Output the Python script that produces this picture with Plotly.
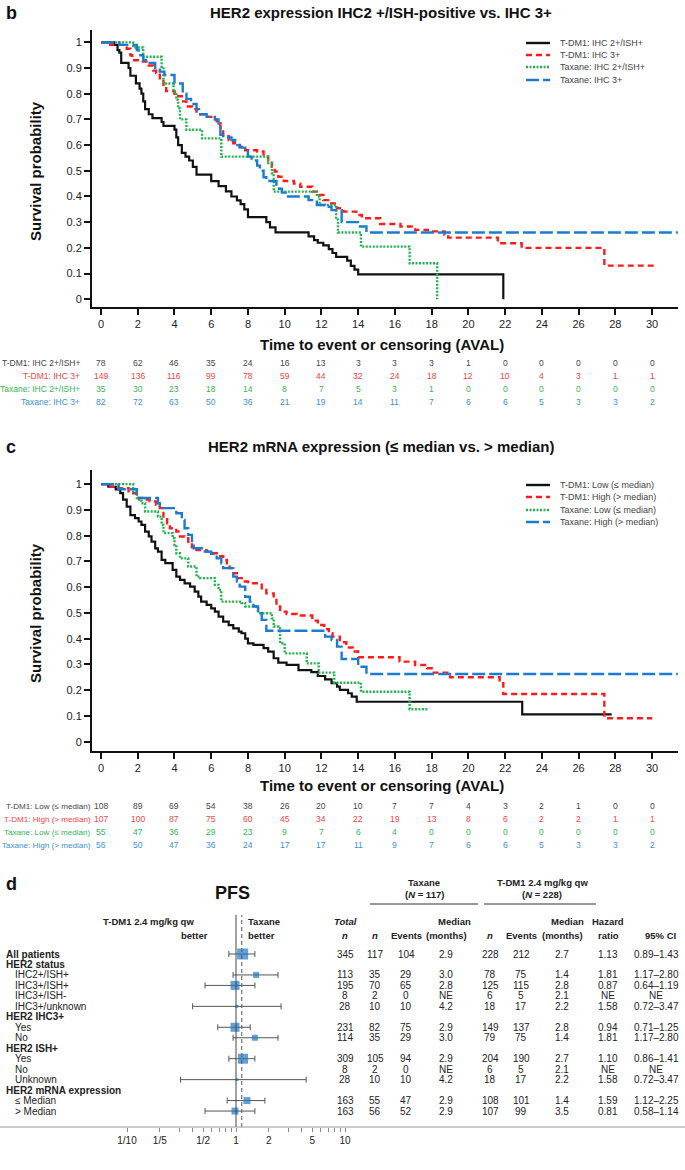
import plotly.graph_objects as go

W, H = 685, 1170
FONT = "Liberation Sans, Arial, sans-serif"
NARROW = "Liberation Sans Narrow, Liberation Sans, Arial, sans-serif"

def fx(x):
    return x / W

def fy(y):
    return 1 - y / H

# ── colours ──────────────────────────────────────────────────────────────────
C_BLACK, C_RED, C_GREEN, C_BLUE = "#111111", "#ff1a1a", "#22b14c", "#1b7bd0"
T_BLACK, T_RED, T_GREEN, T_BLUE = "#444444", "#f04444", "#35b556", "#3d8fd6"

# ── panel b: HER2 IHC2+/ISH+ vs IHC3+ ─────────────────────────────────────────
b_tdm1_ihc2_t = [0, 0.7, 0.9, 1.0, 1.1, 1.5, 1.6, 1.9, 2.1, 2.2, 2.3, 2.4, 2.6, 2.8, 3.3, 3.4,
                 4.0, 4.1, 4.2, 4.4, 4.6, 4.8, 5.0, 5.2, 6.0, 6.4, 6.8, 7.1, 7.4, 7.6, 7.8, 8.0,
                 9.0, 9.2, 9.5, 11.3, 11.6, 11.8, 12.1, 12.4, 12.6, 12.8, 13.4, 13.6, 13.8, 14.0, 21.9]
b_tdm1_ihc2_s = [1, 0.99, 0.97, 0.96, 0.92, 0.90, 0.87, 0.84, 0.82, 0.80, 0.77, 0.74, 0.72, 0.705, 0.69, 0.675,
                 0.66, 0.63, 0.60, 0.57, 0.555, 0.54, 0.515, 0.485, 0.46, 0.44, 0.42, 0.40, 0.385, 0.37, 0.35, 0.32,
                 0.30, 0.28, 0.26, 0.245, 0.23, 0.22, 0.21, 0.195, 0.18, 0.165, 0.15, 0.13, 0.115, 0.097, 0]

b_tdm1_ihc3_t = [0, 0.5, 1.4, 1.6, 1.7, 2.2, 2.6, 2.85, 3.0, 3.2, 3.4, 3.55, 4.0, 4.1, 4.4, 4.65, 4.95, 5.2,
                 5.6, 6.1, 6.3, 6.5, 6.65, 6.95, 7.2, 7.55, 7.85, 8.5, 8.85, 9.1, 9.3, 9.45, 9.65, 9.95,
                 10.5, 10.85, 11.5, 11.75, 12.1, 12.45, 12.85, 13.2, 13.9, 14.2, 15.2, 16.3, 17.1, 17.8,
                 18.7, 18.9, 21.6, 22.9, 27.4, 30.2]
b_tdm1_ihc3_s = [1, 0.99, 0.975, 0.95, 0.93, 0.925, 0.91, 0.89, 0.88, 0.86, 0.835, 0.81, 0.80, 0.79, 0.77, 0.75, 0.74, 0.72,
                 0.71, 0.70, 0.685, 0.66, 0.635, 0.62, 0.607, 0.594, 0.58, 0.575, 0.555, 0.54, 0.516, 0.497, 0.477, 0.46,
                 0.45, 0.438, 0.419, 0.406, 0.386, 0.373, 0.354, 0.341, 0.328, 0.315, 0.293, 0.283, 0.27, 0.264,
                 0.251, 0.24, 0.218, 0.20, 0.131, 0.131]

b_tax_ihc2_t = [0, 1.75, 2.3, 3.3, 3.4, 3.95, 4.1, 4.2, 4.3, 4.65, 5.5, 6.55, 9.1, 9.3, 9.4,
                11.75, 11.9, 12.8, 12.9, 14.15, 16.8, 18.3]
b_tax_ihc2_s = [1, 0.98, 0.944, 0.905, 0.84, 0.808, 0.776, 0.743, 0.70, 0.66, 0.626, 0.555, 0.53, 0.49, 0.419,
                0.40, 0.367, 0.31, 0.26, 0.205, 0.14, 0.0]

b_tax_ihc3_t = [0, 1.0, 1.95, 2.05, 2.3, 2.65, 2.95, 3.2, 3.45, 4.0, 4.45, 4.65, 4.9, 5.2, 5.4, 5.75,
                6.2, 6.4, 6.5, 6.65, 7.1, 7.3, 7.55, 7.85, 8.0, 8.2, 8.5, 8.65, 8.85, 9.0, 9.55, 9.7,
                9.85, 10.05, 11.3, 11.75, 12.2, 12.55, 13.1, 14.1, 14.45, 31.4]
b_tax_ihc3_s = [1, 0.99, 0.97, 0.95, 0.93, 0.92, 0.90, 0.886, 0.873, 0.84, 0.80, 0.78, 0.76, 0.74, 0.72, 0.71,
                0.70, 0.67, 0.64, 0.63, 0.62, 0.60, 0.59, 0.575, 0.555, 0.54, 0.52, 0.50, 0.475, 0.46, 0.445, 0.43,
                0.415, 0.40, 0.386, 0.367, 0.36, 0.347, 0.30, 0.283, 0.26, 0.26]

b_names = ["T-DM1: IHC 2+/ISH+", "T-DM1: IHC 3+", "Taxane: IHC 2+/ISH+", "Taxane: IHC 3+"]
b_risk_tdm1_ihc2 = [78, 62, 46, 35, 24, 16, 13, 3, 3, 3, 1, 0, 0, 0, 0, 0]
b_risk_tdm1_ihc3 = [149, 136, 116, 99, 78, 59, 44, 32, 24, 18, 12, 10, 4, 3, 1, 1]
b_risk_tax_ihc2 = [35, 30, 23, 18, 14, 8, 7, 5, 3, 1, 0, 0, 0, 0, 0, 0]
b_risk_tax_ihc3 = [82, 72, 63, 50, 36, 21, 19, 14, 11, 7, 6, 6, 5, 3, 3, 2]

# ── panel c: HER2 mRNA low vs high ───────────────────────────────────────────
c_tdm1_low_t = [0, 0.4, 0.8, 1.05, 1.2, 1.4, 1.6, 1.85, 2.05, 2.2, 2.4, 2.6, 2.75, 2.95, 3.1, 3.3, 3.5,
                3.9, 4.1, 4.3, 4.55, 4.85, 5.1, 5.3, 5.45, 5.75, 6.0, 6.2, 6.4, 6.65, 6.95, 7.2, 7.5,
                7.65, 7.85, 8.0, 8.3, 8.85, 9.1, 9.4, 9.65, 10.1, 10.75, 11.45, 11.8, 12.2, 12.55, 12.85,
                13.0, 13.45, 13.65, 13.92, 22.93, 27.8]
c_tdm1_low_s = [1, 0.99, 0.98, 0.965, 0.94, 0.913, 0.88, 0.868, 0.855, 0.842, 0.816, 0.797, 0.777, 0.751, 0.738, 0.706, 0.693,
                0.667, 0.641, 0.628, 0.615, 0.602, 0.583, 0.563, 0.544, 0.531, 0.518, 0.505, 0.486, 0.466, 0.453, 0.44, 0.427,
                0.421, 0.40, 0.382, 0.376, 0.363, 0.35, 0.324, 0.307, 0.298, 0.278, 0.27, 0.255, 0.242, 0.227, 0.214,
                0.201, 0.188, 0.175, 0.155, 0.106, 0.106]

c_tdm1_high_t = [0, 0.5, 0.95, 1.5, 1.95, 2.3, 2.65, 3.0, 3.2, 3.4, 3.6, 3.75, 4.1, 4.3, 4.55, 4.75,
                 4.95, 5.2, 5.75, 6.0, 6.3, 6.65, 6.85, 7.0, 7.2, 7.4, 7.75, 8.0, 8.75, 9.0, 9.4, 9.55,
                 9.75, 10.1, 10.65, 11.5, 11.8, 12.15, 12.4, 12.6, 13.0, 13.35, 13.7, 14.0, 16.25, 17.1,
                 17.75, 18.0, 19.0, 21.7, 21.9, 27.4, 30.0]
c_tdm1_high_s = [1, 0.99, 0.984, 0.965, 0.946, 0.94, 0.933, 0.92, 0.907, 0.874, 0.848, 0.829, 0.816, 0.797, 0.79, 0.771,
                 0.755, 0.744, 0.738, 0.732, 0.72, 0.706, 0.693, 0.674, 0.654, 0.635, 0.622, 0.615, 0.596, 0.576, 0.557, 0.525,
                 0.505, 0.496, 0.49, 0.47, 0.453, 0.437, 0.421, 0.408, 0.386, 0.366, 0.35, 0.328, 0.311, 0.298,
                 0.285, 0.268, 0.25, 0.227, 0.185, 0.091, 0.091]

c_tax_low_t = [0, 1.75, 1.95, 2.2, 2.4, 3.1, 3.3, 3.4, 3.9, 4.0, 4.1, 4.3, 4.75, 5.2, 5.4, 6.2, 6.4,
               6.55, 7.65, 7.85, 8.55, 9.3, 9.4, 9.65, 9.75, 10.0, 11.2, 11.85, 12.7, 14.15, 16.8, 17.8]
c_tax_low_s = [1, 0.97, 0.94, 0.926, 0.894, 0.874, 0.842, 0.81, 0.79, 0.764, 0.732, 0.712, 0.68, 0.641, 0.635, 0.609, 0.589,
               0.544, 0.538, 0.525, 0.499, 0.479, 0.447, 0.44, 0.382, 0.343, 0.304, 0.268, 0.229, 0.194, 0.126, 0.126]

c_tax_high_t = [0, 0.95, 1.95, 3.1, 3.2, 4.1, 4.4, 4.55, 4.75, 4.95, 5.05, 5.65, 6.0, 6.3, 6.55, 6.65,
                7.2, 7.4, 7.55, 7.85, 8.1, 8.3, 8.55, 8.75, 9.0, 12.2, 12.55, 12.85, 13.1, 14.0, 14.45, 31.4]
c_tax_high_s = [1, 0.98, 0.946, 0.926, 0.907, 0.887, 0.861, 0.829, 0.803, 0.771, 0.751, 0.738, 0.73, 0.712, 0.693, 0.674,
                0.641, 0.622, 0.602, 0.563, 0.544, 0.525, 0.499, 0.473, 0.431, 0.408, 0.395, 0.369, 0.321, 0.291, 0.263, 0.263]

c_names = ["T-DM1: Low (≤ median)", "T-DM1: High (> median)", "Taxane: Low (≤ median)", "Taxane: High (> median)"]
c_risk_tdm1_low = [108, 89, 69, 54, 38, 26, 20, 10, 7, 7, 4, 3, 2, 1, 0, 0]
c_risk_tdm1_high = [107, 100, 87, 75, 60, 45, 34, 22, 19, 13, 8, 6, 2, 2, 1, 1]
c_risk_tax_low = [55, 47, 36, 29, 23, 9, 7, 6, 4, 0, 0, 0, 0, 0, 0, 0]
c_risk_tax_high = [56, 50, 47, 36, 24, 17, 17, 11, 9, 7, 6, 6, 5, 3, 3, 2]

risk_times = list(range(0, 31, 2))

# ── panel d: PFS forest plot ─────────────────────────────────────────────────
d_labels = ["All patients", "HER2 status", "IHC2+/ISH+", "IHC3+/ISH+", "IHC3+/ISH-", "IHC3+/unknown",
            "HER2 IHC3+", "Yes", "No", "HER2 ISH+", "Yes", "No", "Unknown",
            "HER2 mRNA expression", "≤ Median", "> Median"]
d_is_header = [True, True, False, False, False, False, True, False, False, True, False, False, False,
               True, False, False]
d_total = ["345", "", "113", "195", "8", "28", "", "231", "114", "", "309", "8", "28", "", "163", "163"]
d_tax_n = ["117", "", "35", "70", "2", "10", "", "82", "35", "", "105", "2", "10", "", "55", "56"]
d_tax_ev = ["104", "", "29", "65", "0", "10", "", "75", "29", "", "94", "0", "10", "", "47", "52"]
d_tax_med = ["2.9", "", "3.0", "2.8", "NE", "4.2", "", "2.9", "3.0", "", "2.9", "NE", "4.2", "", "2.9", "2.9"]
d_tdm_n = ["228", "", "78", "125", "6", "18", "", "149", "79", "", "204", "6", "18", "", "108", "107"]
d_tdm_ev = ["212", "", "75", "115", "5", "17", "", "137", "75", "", "190", "5", "17", "", "101", "99"]
d_tdm_med = ["2.7", "", "1.4", "2.8", "2.1", "2.2", "", "2.8", "1.4", "", "2.7", "2.1", "2.2", "", "1.4", "3.5"]
d_hr_txt = ["1.13", "", "1.81", "0.87", "NE", "1.58", "", "0.94", "1.81", "", "1.10", "NE", "1.58", "", "1.59", "0.81"]
d_ci_txt = ["0.89–1.43", "", "1.17–2.80", "0.64–1.19", "NE", "0.72–3.47", "", "0.71–1.25", "1.17–2.80", "",
            "0.86–1.41", "NE", "0.72–3.47", "", "1.12–2.25", "0.58–1.14"]

# plotted estimates
d_hr = [1.15, None, 1.53, 0.98, None, 1.02, None, 0.98, 1.49, None, 1.16, None, 1.02, None, 1.26, 0.98]
d_lo = [0.86, None, 0.94, 0.52, None, 0.40, None, 0.68, 0.94, None, 0.86, None, 0.31, None, 0.83, 0.52]
d_hi = [1.49, None, 2.43, 1.49, None, 2.59, None, 1.35, 2.43, None, 1.49, None, 4.40, None, 1.84, 1.49]
d_box = [11, 0, 6, 9, 0, 3, 0, 9, 6, 0, 10, 0, 3, 0, 7, 7]
d_overall = 1.13

fig = go.Figure()

# ── KM curves ────────────────────────────────────────────────────────────────
styles = [
    (C_BLACK, "solid", 2.2),
    (C_RED, "6px,4px", 2.4),
    (C_GREEN, "2px,1.5px", 2.4),
    (C_BLUE, "13px,4px", 2.4),
]

b_curves = [(b_tdm1_ihc2_t, b_tdm1_ihc2_s), (b_tdm1_ihc3_t, b_tdm1_ihc3_s),
            (b_tax_ihc2_t, b_tax_ihc2_s), (b_tax_ihc3_t, b_tax_ihc3_s)]
c_curves = [(c_tdm1_low_t, c_tdm1_low_s), (c_tdm1_high_t, c_tdm1_high_s),
            (c_tax_low_t, c_tax_low_s), (c_tax_high_t, c_tax_high_s)]

for (t, s), (col, dash, w) in zip(b_curves, styles):
    fig.add_trace(go.Scatter(x=t, y=s, mode="lines", line=dict(color=col, dash=dash, width=w, shape="hv"),
                             xaxis="x", yaxis="y", showlegend=False, hoverinfo="skip"))
for (t, s), (col, dash, w) in zip(c_curves, styles):
    fig.add_trace(go.Scatter(x=t, y=s, mode="lines", line=dict(color=col, dash=dash, width=w, shape="hv"),
                             xaxis="x2", yaxis="y2", showlegend=False, hoverinfo="skip"))

# ── forest plot ──────────────────────────────────────────────────────────────
rows = list(range(len(d_labels)))
fr = [r for r in rows if d_hr[r] is not None]
fig.add_trace(go.Scatter(
    x=[d_hr[r] for r in fr], y=fr, mode="markers",
    marker=dict(symbol="square", size=[d_box[r] for r in fr], color="#1f78c4",
                line=dict(width=0)),
    error_x=dict(type="data", symmetric=False,
                 array=[d_hi[r] - d_hr[r] for r in fr],
                 arrayminus=[d_hr[r] - d_lo[r] for r in fr],
                 color="#555555", thickness=1, width=3),
    xaxis="x3", yaxis="y3", showlegend=False, hoverinfo="skip"))

ann = []
shapes = []

def txt(x, y, s, size=9, color="#222", bold=False, anchor="center", xref="paper", yref="paper",
        font=FONT, angle=0):
    if bold:
        s = "<b>" + s + "</b>"
    ann.append(dict(x=x, y=y, xref=xref, yref=yref, text=s, showarrow=False, textangle=angle,
                    xanchor=anchor, yanchor="middle", font=dict(family=font, size=size, color=color)))

# ── titles / axis titles ─────────────────────────────────────────────────────
txt(fx(4), fy(13), "b", size=18, color="#111", bold=True, anchor="left")
txt(fx(381), fy(13), "HER2 expression IHC2 +/ISH-positive vs. IHC 3+", size=15, color="#111", bold=True)
txt(fx(4), fy(447), "c", size=18, color="#111", bold=True, anchor="left")
txt(fx(381), fy(447), "HER2 mRNA expression (≤ median vs. > median)", size=15, color="#111", bold=True)

txt(fx(35), fy(171), "Survival probability", size=15, color="#111", bold=True, angle=-90)
txt(fx(35), fy(613), "Survival probability", size=15, color="#111", bold=True, angle=-90)
txt(fx(382), fy(344), "Time to event or censoring (AVAL)", size=15, color="#111", bold=True)
txt(fx(382), fy(786), "Time to event or censoring (AVAL)", size=15, color="#111", bold=True)

# ── legends (drawn) ──────────────────────────────────────────────────────────
def legend(names, ys):
    for name, (col, dash, w), y in zip(names, styles, ys):
        shapes.append(dict(type="line", xref="paper", yref="paper", x0=fx(526), x1=fx(550),
                           y0=fy(y), y1=fy(y), line=dict(color=col, width=2.4, dash=dash)))
        txt(fx(558), fy(y), name, size=9, color="#444", anchor="left")

legend(b_names, [43, 55, 67, 80])
legend(c_names, [485, 497, 510, 522])

# ── risk tables ──────────────────────────────────────────────────────────────
def risk_table(names, tables, ys, label_x, xref, size):
    cols = [T_BLACK, T_RED, T_GREEN, T_BLUE]
    for name, vals, y, col in zip(names, tables, ys, cols):
        txt(fx(label_x), fy(y), name, size=size, color=col, anchor="right")
        for t, v in zip(risk_times, vals):
            txt(t, fy(y), str(v), size=8.5, color=col, xref=xref)

risk_table(b_names, [b_risk_tdm1_ihc2, b_risk_tdm1_ihc3, b_risk_tax_ihc2, b_risk_tax_ihc3],
           [363, 376, 389, 402], 82, "x", 8.5)
risk_table(c_names, [c_risk_tdm1_low, c_risk_tdm1_high, c_risk_tax_low, c_risk_tax_high],
           [806, 819, 832, 845], 93, "x2", 8.1)

# ── panel d texts ────────────────────────────────────────────────────────────
txt(fx(4), fy(884), "d", size=18, color="#111", bold=True, anchor="left")
txt(fx(232), fy(893), "PFS", size=18, color="#111", bold=True)

hs = 9.5
txt(fx(424), fy(882), "Taxane", size=hs, bold=True, font=NARROW)
txt(fx(424), fy(895), "(<i>N</i> = 117)", size=hs, bold=True, font=NARROW)
txt(fx(542), fy(882), "T-DM1 2.4 mg/kg qw", size=hs, bold=True, font=NARROW)
txt(fx(542), fy(895), "(<i>N</i> = 228)", size=hs, bold=True, font=NARROW)
shapes.append(dict(type="line", xref="paper", yref="paper", x0=fx(370), x1=fx(478), y0=fy(904), y1=fy(904),
                   line=dict(color="#333", width=1)))
shapes.append(dict(type="line", xref="paper", yref="paper", x0=fx(484), x1=fx(596), y0=fy(904), y1=fy(904),
                   line=dict(color="#333", width=1)))

txt(fx(196), fy(921), "T-DM1 2.4 mg/kg qw", size=hs, bold=True, anchor="right", font=NARROW)
txt(fx(210), fy(935), "better", size=hs, bold=True, anchor="right", font=NARROW)
txt(fx(246), fy(921), "Taxane", size=hs, bold=True, anchor="left", font=NARROW)
txt(fx(246), fy(935), "better", size=hs, bold=True, anchor="left", font=NARROW)

col_x = [345, 375, 406, 446, 490, 521, 562, 608, 656]
txt(fx(col_x[0]), fy(921), "<i>Total</i>", size=hs, bold=True, font=NARROW)
txt(fx(col_x[0]), fy(935), "<i>n</i>", size=hs, bold=True, font=NARROW)
txt(fx(col_x[1]), fy(935), "<i>n</i>", size=hs, bold=True, font=NARROW)
txt(fx(col_x[2]), fy(935), "Events", size=hs, bold=True, font=NARROW)
txt(fx(col_x[3] + 8), fy(921), "Median", size=hs, bold=True, font=NARROW)
txt(fx(col_x[3]), fy(935), "(months)", size=hs, bold=True, font=NARROW)
txt(fx(col_x[4]), fy(935), "<i>n</i>", size=hs, bold=True, font=NARROW)
txt(fx(col_x[5]), fy(935), "Events", size=hs, bold=True, font=NARROW)
txt(fx(col_x[6] + 5), fy(921), "Median", size=hs, bold=True, font=NARROW)
txt(fx(col_x[6]), fy(935), "(months)", size=hs, bold=True, font=NARROW)
txt(fx(col_x[7]), fy(921), "Hazard", size=hs, bold=True, font=NARROW)
txt(fx(col_x[7]), fy(935), "ratio", size=hs, bold=True, font=NARROW)
txt(fx(col_x[8] + 4), fy(935), "95% CI", size=hs, bold=True, font=NARROW)

ds = 10
ROW0, ROWH = 954, 10.47
AX_Y, TOP_Y = 1127, 915
col_data = [d_total, d_tax_n, d_tax_ev, d_tax_med, d_tdm_n, d_tdm_ev, d_tdm_med, d_hr_txt, d_ci_txt]
for r in rows:
    if d_is_header[r]:
        txt(fx(4), r, d_labels[r], size=ds, bold=True, anchor="left", yref="y3", font=NARROW)
    else:
        txt(fx(13), r, d_labels[r], size=ds, anchor="left", yref="y3", font=NARROW)
    for cx, col in zip(col_x, col_data):
        if col[r]:
            txt(fx(cx), r, col[r], size=ds, yref="y3", font=NARROW)

# reference lines
shapes.append(dict(type="line", xref="x3", yref="paper", x0=1, x1=1, y0=fy(AX_Y), y1=fy(TOP_Y),
                   line=dict(color="#444", width=1)))
shapes.append(dict(type="line", xref="x3", yref="paper", x0=d_overall, x1=d_overall, y0=fy(AX_Y), y1=fy(TOP_Y),
                   line=dict(color="#555", width=1, dash="4px,3px")))
shapes.append(dict(type="line", xref="paper", yref="paper", x0=0, x1=1, y0=fy(AX_Y), y1=fy(AX_Y),
                   line=dict(color="#999", width=1)))

forest_ticks = [0.1, 0.2, 0.3, 0.4, 0.5, 0.6, 0.7, 0.8, 0.9, 1, 2, 3, 4, 5, 6, 7, 8, 9, 10]
forest_ticktext = ["1/10", "1/5", "", "", "1/2", "", "", "", "", "1", "2", "", "", "5", "", "", "", "", "10"]

axis_common = dict(showline=True, linewidth=2, linecolor="#111", ticks="outside", ticklen=6, tickwidth=2,
                   tickcolor="#111", showgrid=False, zeroline=False,
                   tickfont=dict(family=FONT, size=11, color="#222"))

fig.update_layout(
    width=W, height=H,
    margin=dict(l=0, r=0, t=0, b=0),
    paper_bgcolor="white", plot_bgcolor="white",
    font=dict(family=FONT),
    showlegend=False,
    xaxis=dict(domain=[fx(92), fx(678)], range=[-0.49, 31.41], anchor="y",
               tickvals=risk_times, **axis_common),
    yaxis=dict(domain=[fy(306.7), fy(30)], range=[-0.029, 1.048], anchor="x",
               tickvals=[i / 10 for i in range(11)],
               ticktext=["0"] + ["0.%d" % i for i in range(1, 10)] + ["1"], **axis_common),
    xaxis2=dict(domain=[fx(92), fx(678)], range=[-0.49, 31.41], anchor="y2",
                tickvals=risk_times, **axis_common),
    yaxis2=dict(domain=[fy(750.7), fy(470)], range=[-0.035, 1.055], anchor="x2",
                tickvals=[i / 10 for i in range(11)],
                ticktext=["0"] + ["0.%d" % i for i in range(1, 10)] + ["1"], **axis_common),
    xaxis3=dict(domain=[fx(100), fx(360)], type="log", range=[(100 - 236) / 109, (360 - 236) / 109],
                anchor="y3", showline=False, showgrid=False, zeroline=False, ticks="outside",
                ticklen=4, tickwidth=1, tickcolor="#888", tickvals=forest_ticks, ticktext=forest_ticktext,
                tickfont=dict(family=NARROW, size=10, color="#222")),
    yaxis3=dict(domain=[fy(AX_Y), fy(TOP_Y)],
                range=[(AX_Y - ROW0) / ROWH, (TOP_Y - ROW0) / ROWH], anchor="x3", visible=False),
    annotations=ann,
    shapes=shapes,
)

fig.write_html("out.html", config={"displayModeBar": False},
               post_script="document.body.style.margin='0';document.body.style.padding='0';")
